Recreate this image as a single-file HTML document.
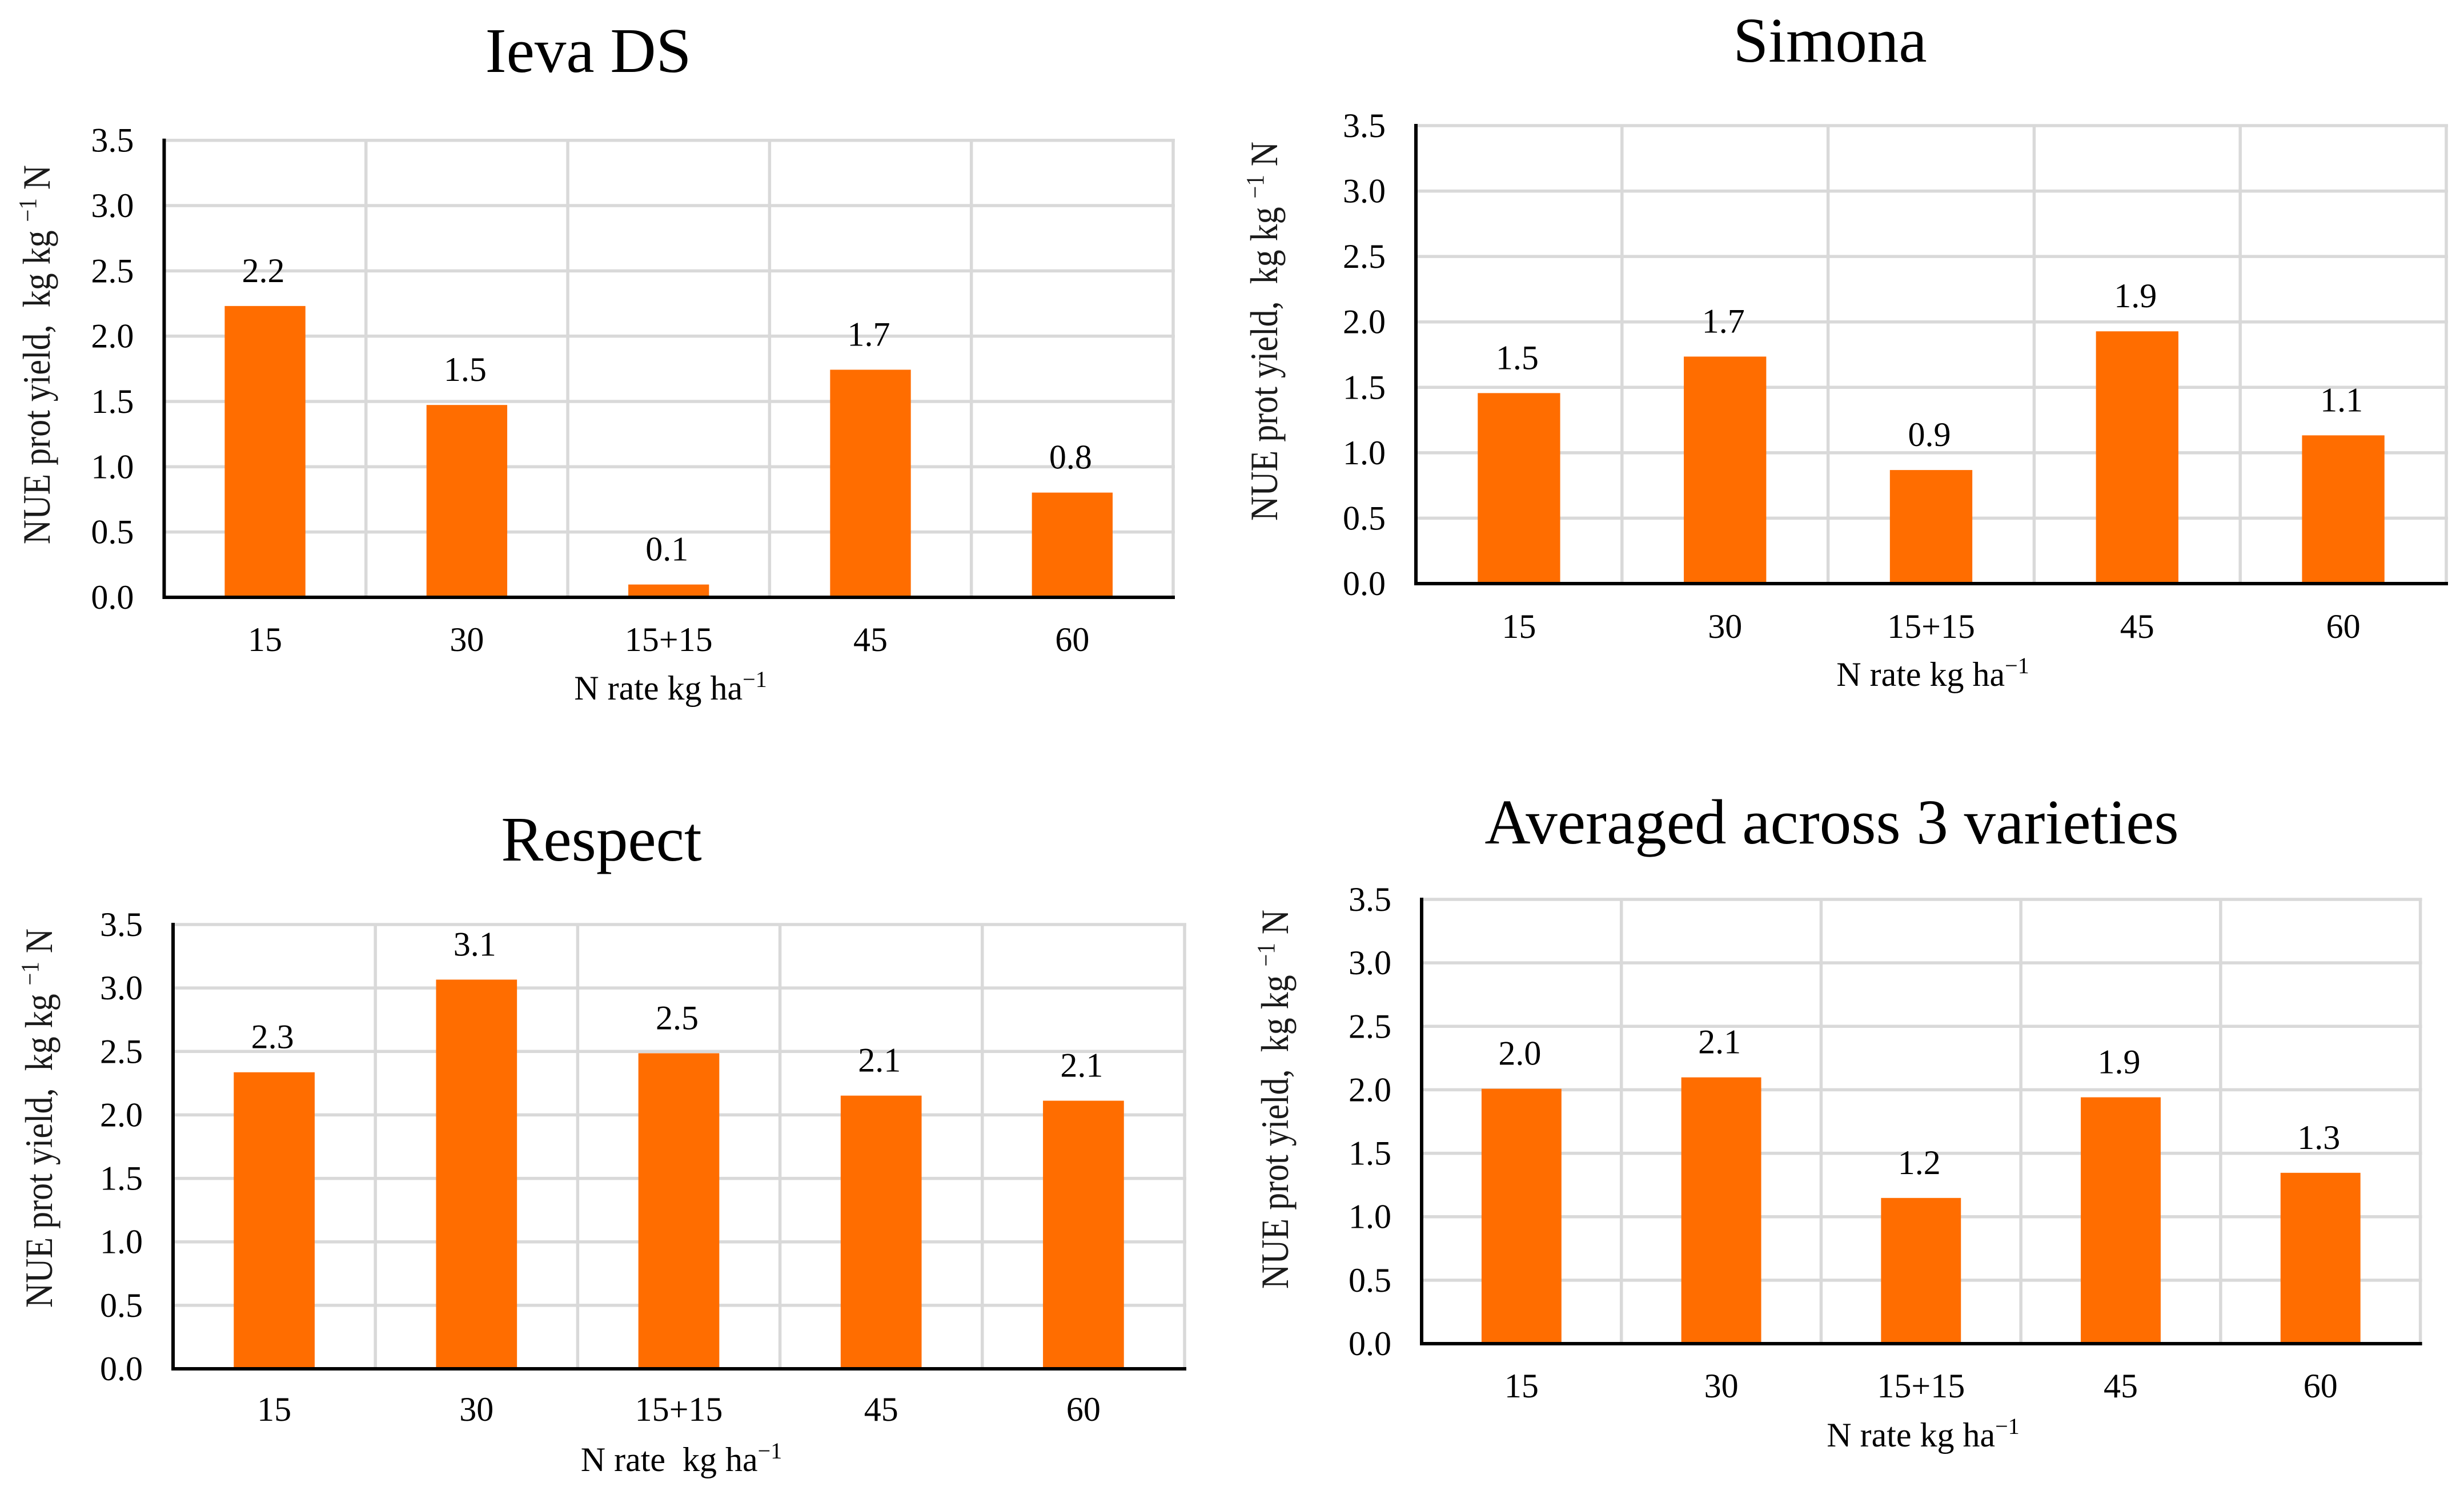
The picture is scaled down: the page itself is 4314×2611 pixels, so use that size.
<!DOCTYPE html>
<html lang="en">
<head>
<meta charset="utf-8">
<title>NUE prot yield by N rate</title>
<style>
html,body{margin:0;padding:0;background:#fff;width:4314px;height:2611px;overflow:hidden}
svg{display:block;position:absolute;left:0;top:0}
text{font-family:"Liberation Serif",serif;fill:#000}
</style>
</head>
<body>
<svg id="figure" xmlns="http://www.w3.org/2000/svg" width="4314" height="2611" viewBox="0 0 4314 2611"></svg>
<script>
const categories = ['15', '30', '15+15', '45', '60'];
const yTicks = [0, 0.5, 1, 1.5, 2, 2.5, 3, 3.5];
const ievaValues = [2.231, 1.473, 0.098, 1.743, 0.802];
const ievaLabels = ['2.2', '1.5', '0.1', '1.7', '0.8'];
const simonaValues = [1.456, 1.735, 0.868, 1.928, 1.133];
const simonaLabels = ['1.5', '1.7', '0.9', '1.9', '1.1'];
const respectValues = [2.336, 3.066, 2.486, 2.152, 2.112];
const respectLabels = ['2.3', '3.1', '2.5', '2.1', '2.1'];
const averagedValues = [2.008, 2.098, 1.148, 1.941, 1.346];
const averagedLabels = ['2.0', '2.1', '1.2', '1.9', '1.3'];

const SVG_NS = 'http://www.w3.org/2000/svg';
const figure = document.getElementById('figure');
const Y_MAX = 3.5;

function make(tag, attrs, parent, content) {
  const el = document.createElementNS(SVG_NS, tag);
  for (const k in attrs) el.setAttribute(k, attrs[k]);
  if (content !== undefined) el.textContent = content;
  parent.appendChild(el);
  return el;
}

function superscriptText(el, before, after, supSize, supRise) {
  el.appendChild(document.createTextNode(before));
  const sup = make('tspan', {'font-size': supSize, dy: -supRise}, el, '\u22121');
  if (after) {
    make('tspan', {dy: supRise}, el, after);
  }
  return sup;
}

function drawPanel(name, p, values, labels) {
  const panel = make('g', {}, figure);
  
  

  const yScale = v => p.base - (v / Y_MAX) * (p.base - p.top);
  const band = (p.right - p.left) / categories.length;
  const xCenter = i => p.left + band * (i + 0.5);
  const barWidth = band * 0.4;

  const grid = make('g', {stroke: '#d9d9d9', 'stroke-width': 5.5}, panel);
  
  
  yTicks.forEach(t => {
    if (t === 0) return;
    make('line', {x1: p.left, x2: p.right + 3, y1: yScale(t), y2: yScale(t)}, grid);
  });
  categories.forEach((c, i) => {
    make('line', {x1: p.left + band * (i + 1), x2: p.left + band * (i + 1), y1: p.top, y2: p.base}, grid);
  });

  values.forEach((v, i) => {
    const bar = make('rect', {
      x: xCenter(i) - barWidth / 2,
      y: yScale(v),
      width: barWidth,
      height: p.base - yScale(v),
      fill: '#ff6d00'
    }, panel);
    
    

    const label = make('text', {
      x: xCenter(i) - 3,
      y: yScale(v) - 42,
      'font-size': 60,
      'text-anchor': 'middle'
    }, panel, labels[i]);
    
    

    const cat = make('text', {
      x: xCenter(i),
      y: p.catY,
      'font-size': 60,
      'text-anchor': 'middle'
    }, panel, categories[i]);
    
    
  });

  yTicks.forEach(t => {
    const tick = make('text', {
      x: p.left - 53,
      y: yScale(t) + 20,
      'font-size': 60,
      'text-anchor': 'end'
    }, panel, t.toFixed(1));
    
    
  });

  const yAxis = make('line', {x1: p.left, x2: p.left, y1: p.top - 3, y2: p.base + 3, stroke: '#000', 'stroke-width': 6}, panel);
  
  
  const xAxis = make('line', {x1: p.left, x2: p.right + 3, y1: p.base, y2: p.base, stroke: '#000', 'stroke-width': 6}, panel);
  
  

  const title = make('text', {x: p.titleX, y: p.titleY, 'font-size': 111, 'text-anchor': 'middle'}, panel, p.title);
  
  

  const xTitle = make('text', {x: p.xTitleX, y: p.xTitleY, 'font-size': 60, 'text-anchor': 'middle', style: 'white-space:pre'}, panel);
  superscriptText(xTitle, p.xTitle, '', 40, 22);
  
  

  const yTitle = make('text', {
    transform: 'translate(' + p.yTitleX + ' ' + p.yTitleY + ') rotate(-90) scale(0.882 1)',
    'font-size': 68,
    'text-anchor': 'middle',
    style: 'white-space:pre;fill:#1a1a1a'
  }, panel);
  superscriptText(yTitle, 'NUE prot yield,  kg kg ', ' N', 44, 24);
  
  
}

drawPanel('ieva-ds', {
  left: 287.4, right: 2054, top: 245.7, base: 1046, catY: 1140,
  title: 'Ieva DS', titleX: 1030, titleY: 126,
  xTitle: 'N rate kg ha', xTitleX: 1174, xTitleY: 1225,
  yTitleX: 87, yTitleY: 621
}, ievaValues, ievaLabels);

drawPanel('simona', {
  left: 2479, right: 4283, top: 220, base: 1022, catY: 1117,
  title: 'Simona', titleX: 3204, titleY: 108,
  xTitle: 'N rate kg ha', xTitleX: 3384, xTitleY: 1201,
  yTitleX: 2236, yTitleY: 580
}, simonaValues, simonaLabels);

drawPanel('respect', {
  left: 303, right: 2074, top: 1619, base: 2397, catY: 2488,
  title: 'Respect', titleX: 1053, titleY: 1507,
  xTitle: 'N rate  kg ha', xTitleX: 1193, xTitleY: 2576,
  yTitleX: 91, yTitleY: 1958
}, respectValues, respectLabels);

drawPanel('averaged', {
  left: 2489, right: 4237.6, top: 1575, base: 2353, catY: 2447,
  title: 'Averaged across 3 varieties', titleX: 3207, titleY: 1477,
  xTitle: 'N rate kg ha', xTitleX: 3367, xTitleY: 2533,
  yTitleX: 2255, yTitleY: 1925
}, averagedValues, averagedLabels);
</script>
</body>
</html>
